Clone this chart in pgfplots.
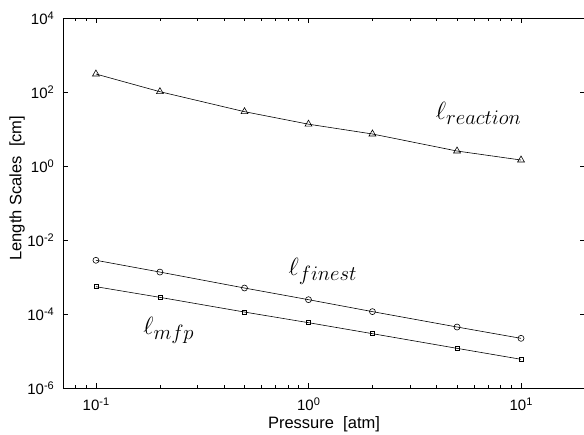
\documentclass[border=0pt]{standalone}
\usepackage{fontspec}
\setmainfont{Liberation Sans}
\usepackage{pgfplots}
\pgfplotsset{compat=1.18}

% tick label: 10 with a raised exponent, in the text font
\newcommand{\logtick}{10\raisebox{5pt}{\fontsize{11}{11}\selectfont\pgfmathparse{int(round(\tick/ln(10)))}\pgfmathresult}}

\begin{document}
\begin{tikzpicture}
\begin{axis}[
    scale only axis,
    width=522pt, height=370pt,
    xmode=log, ymode=log,
    xmin=0.07, xmax=20,
    ymin=1e-6, ymax=1e4,
    xtick={0.1,1,10},
    minor xtick={0.07,0.08,0.09,0.2,0.3,0.4,0.5,0.6,0.7,0.8,0.9,2,3,4,5,6,7,8,9,20},
    ytick={1e-6,1e-4,1e-2,1,1e2,1e4},
    yminorticks=false,
    tick align=inside,
    major tick length=5pt,
    minor tick length=3pt,
    axis line style={line width=0.8pt},
    every tick/.style={black, line width=0.6pt},
    xticklabel={\logtick},
    yticklabel={\logtick},
    every tick label/.append style={font=\fontsize{15}{18}\selectfont, inner sep=0pt},
    xticklabel style={anchor=base, yshift=-22.7pt},
    yticklabel style={anchor=east, xshift=-9pt},
    xlabel={Pressure~~[atm]},
    ylabel={Length Scales~~[cm]},
    label style={font=\fontsize{16.5}{19}\selectfont, inner sep=0pt},
    xlabel style={at={(axis description cs:0.5,0)}, anchor=base, yshift=-40pt},
    ylabel style={at={(axis description cs:-0.088,0.54)}, anchor=center},
    every axis plot/.append style={black, line width=0.6pt, mark options={fill=white, solid}},
    clip=false,
]
% l_reaction
\addplot[mark=triangle, mark size=4pt] coordinates {
    (0.1,306) (0.2,102) (0.5,29.4) (1,13.5) (2,7.33) (5,2.54) (10,1.45)};
% l_finest
\addplot[mark=o, mark size=3pt] coordinates {
    (0.1,2.83e-3) (0.2,1.36e-3) (0.5,5.04e-4) (1,2.44e-4) (2,1.16e-4) (5,4.45e-5) (10,2.2e-5)};
% l_mfp
\addplot[mark=square, mark size=2pt] coordinates {
    (0.1,5.48e-4) (0.2,2.82e-4) (0.5,1.13e-4) (1,5.83e-5) (2,2.94e-5) (5,1.18e-5) (10,5.97e-6)};

\node[anchor=base west, inner sep=0pt] at (axis cs:3.97,18.6)
    {\fontsize{23}{23}\selectfont$\ell$\raisebox{-5pt}{\fontsize{21}{21}\selectfont$reaction$}};
\node[anchor=base west, inner sep=0pt] at (axis cs:0.805,1.13e-3)
    {\fontsize{23}{23}\selectfont$\ell$\raisebox{-5pt}{\fontsize{21}{21}\selectfont$finest$}};
\node[anchor=base west, inner sep=0pt] at (axis cs:0.1667,2.88e-5)
    {\fontsize{23}{23}\selectfont$\ell$\raisebox{-5pt}{\fontsize{21}{21}\selectfont$mfp$}};
\end{axis}
% page as in the reference: right border of the box falls just outside
\pgfresetboundingbox
\path (current axis.south west) ++(-63pt,-46pt) rectangle ([xshift=-1pt,yshift=18pt]current axis.north east);
\end{tikzpicture}
\end{document}
